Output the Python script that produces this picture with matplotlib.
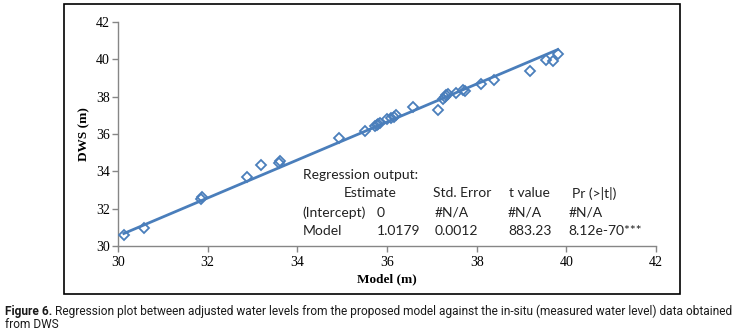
import matplotlib
matplotlib.use("Agg")
import matplotlib.pyplot as plt
from matplotlib.patches import Rectangle

# model (x) vs in-situ DWS (y) water levels
model = [30.13, 30.58, 31.86, 31.88, 32.87, 33.19, 33.60, 33.62,
         34.94, 35.51, 35.74, 35.78, 35.81, 35.85, 36.01, 36.10,
         36.15, 36.21, 36.57, 37.14, 37.26, 37.30, 37.32, 37.37,
         37.54, 37.69, 37.74, 38.10, 38.39, 39.20, 39.55, 39.70, 39.81]
dws = [30.60, 30.95, 32.50, 32.60, 33.67, 34.33, 34.45, 34.55,
       35.81, 36.17, 36.42, 36.47, 36.52, 36.59, 36.78, 36.85,
       36.90, 37.00, 37.45, 37.31, 37.90, 38.00, 38.07, 38.13,
       38.20, 38.34, 38.30, 38.70, 38.88, 39.37, 39.98, 39.91, 40.30]
slope = 1.0179

header = ["Estimate", "Std. Error", "t value", "Pr (>|t|)"]
rows = [
    ["(Intercept)", "0", "#N/A", "#N/A", "#N/A"],
    ["Model", "1.0179", "0.0012", "883.23", "8.12e-70***"],
]

blue = "#4A7EBB"
grey = "#868686"

fig = plt.figure(figsize=(7.52, 3.34), dpi=100)
W, H = 752.0, 334.0
ax = fig.add_axes([118 / W, 1 - 246 / H, 538 / W, 224 / H])

# black frame round the chart area
fig.patches.append(Rectangle((64 / W, 1 - 294 / H), 616 / W, 290 / H,
                             transform=fig.transFigure, fill=False,
                             edgecolor="black", linewidth=1.2))

# fitted line through the origin, spanning the data
x0, x1 = min(model), max(model)
ax.plot([x0, x1], [slope * x0, slope * x1], color=blue, linewidth=2.0, zorder=2)
ax.plot(model, dws, linestyle="none", marker="D", markersize=5.5,
        markerfacecolor="none", markeredgecolor=blue, markeredgewidth=1.3, zorder=3)

ax.set_xlim(30, 42)
ax.set_ylim(30, 42)
ax.set_xticks(range(30, 43, 2))
ax.set_yticks(range(30, 43, 2))
for s in ["top", "right"]:
    ax.spines[s].set_visible(False)
for s in ["left", "bottom"]:
    ax.spines[s].set_color(grey)
    ax.spines[s].set_linewidth(1.0)
ax.tick_params(direction="out", length=4, width=1, color=grey)
ax.tick_params(axis="x", pad=3)
ax.tick_params(axis="y", pad=2)
for lab in ax.get_xticklabels() + ax.get_yticklabels():
    lab.set_fontfamily("Liberation Serif")
    lab.set_fontsize(10)
ax.patch.set_visible(False)

ax.set_xlabel("Model (m)", family="Liberation Serif", fontweight="bold",
              fontsize=9.5, labelpad=3)
ax.set_ylabel("DWS (m)", family="Liberation Serif", fontweight="bold",
              fontsize=9.5, labelpad=4)

# regression output block
tfont = dict(family="Lato", fontsize=10, color="#222222", va="center")
ax.text(34.12, 33.80, "Regression output:", **tfont)
for xx, t in zip([35.04, 37.02, 38.73, 40.13], header):
    ax.text(xx, 32.82, t, **tfont)
cols = [34.12, 35.77, 37.07, 38.70, 40.05]
for yy, r in zip([31.78, 30.82], rows):
    for xx, t in zip(cols, r):
        ax.text(xx, yy, t, **tfont)

# caption, sized so the first line runs to about x = 740 px
cap = dict(family="Roboto", fontsize=9, color="#1a1a1a",
           va="center", transform=fig.transFigure)
t1 = fig.text(5 / W, 1 - 311 / H, "Figure 6.", fontweight="bold", **cap)
t2 = fig.text(0, 1 - 311 / H,
              "Regression plot between adjusted water levels from the proposed model "
              "against the in-situ (measured water level) data obtained", **cap)
t3 = fig.text(5 / W, 1 - 324 / H, "from DWS", **cap)
fig.canvas.draw()
w1 = t1.get_window_extent().width
w2 = t2.get_window_extent().width
scale = (740 - 5 - 3) / (w1 + w2)
for t in (t1, t2, t3):
    t.set_fontsize(9 * scale)
fig.canvas.draw()
t2.set_x((t1.get_window_extent().x1 + 3) / W)

fig.savefig("out.png", dpi=100)
plt.close(fig)
